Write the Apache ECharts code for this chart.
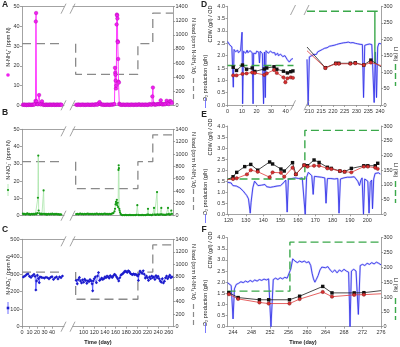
<!DOCTYPE html>
<html>
<head>
<meta charset="utf-8">
<script src="https://cdn.jsdelivr.net/npm/echarts@6.0.0/dist/echarts.min.js"></script>
<style>html,body{margin:0;padding:0;background:#fff}#chart{width:400px;height:347px}</style>
</head>
<body>
<div id="chart"></div>
<script>
// ---------- data ----------
// A: N-NH4+ (ppm N), [day, value]
const nh4Left = [[0,0.3],[1.2,0.2],[2.4,0.4],[3.6,0.2],[4.8,0.3],[6,0.1],[7.2,0.3],[8.4,0.2],[9.6,0.4],[10.8,0.2],[12,0.3],[13.2,0.2],[14.4,0.4],[15.6,0.3],[16.8,0.5],[18,2.2],[18.4,42.5],[18.8,46.8],[19.3,2.0],[20.2,0.6],[21.4,0.5],[22.8,5.2],[23.8,0.8],[25,0.4],[26.6,2.0],[27.6,0.5],[28.8,0.2],[30,0.3],[31.2,0.2],[32.4,0.4],[33.6,0.2],[34.8,0.3],[36,0.2],[37.2,0.4],[38.4,0.3],[39.6,0.2],[40.8,0.3],[42,0.4],[43.2,0.2],[44.4,0.3],[45.6,0.2],[46.8,0.4],[48,0.3],[49.2,0.2],[50.4,0.3],[51.6,0.4],[52.8,0.2]];
const nh4Right = [[86,0.3],[88,0.2],[90,0.4],[92,0.3],[94,0.2],[96,0.3],[98,0.4],[100,0.2],[102,0.3],[104,0.2],[106,0.3],[108,0.4],[110,0.2],[112,0.3],[114,0.2],[116,0.4],[118,0.3],[120,0.2],[122,0.5],[124,0.4],[126,0.3],[128,1.0],[130,1.6],[132,0.6],[134,0.3],[136,0.4],[138,0.2],[140,0.3],[142,0.2],[144,0.4],[146,0.3],[148,0.2],[150,0.3],[152,0.4],[154,0.3],[156,0.5],[158,0.6],[159,19],[159.4,16.5],[159.8,15.5],[160.2,12.5],[160.8,8.5],[161.4,10],[162,41],[162.5,46],[163,45.5],[163.5,44],[164,32.5],[164.4,32],[164.9,23.5],[165.5,12],[166.2,11.5],[167,0.8],[168,0.4],[170,0.3],[172,0.2],[174,0.4],[176,0.3],[178,0.2],[180,0.3],[182,0.4],[184,0.2],[186,0.3],[188,0.2],[190,0.4],[192,0.3],[194,0.2],[196,0.3],[198,0.4],[200,0.2],[202,0.3],[204,0.5],[206,0.3],[208,0.2],[210,0.4],[212,0.3],[214,0.2],[216,0.4],[218,0.3],[220,0.2],[222,0.3],[224,0.6],[226,0.4],[228,0.3],[229.2,4.5],[230.2,9.0],[231.2,0.8],[232,0.5],[234,0.3],[236,0.4],[238,0.5],[240,0.7],[242,0.5],[244,0.9],[245,2.5],[246,0.8],[248,0.4],[250,0.6],[252,0.5],[254,0.7],[256,2.3],[258,1.0],[260,0.6],[262,2.1],[264,2.0],[266,1.2]];

// B: N-NO2- (ppm N)
const no2Left = [[0,0.8],[1.2,1.2],[2.4,0.9],[3.6,1.1],[4.8,0.7],[6,1.0],[7.2,1.3],[8.4,0.8],[9.6,1.0],[10.8,0.6],[12,0.9],[13.2,1.1],[14.4,0.7],[15.6,1.0],[16.8,0.8],[18,1.2],[19.2,0.9],[20.4,1.5],[21.2,10.4],[21.7,34.8],[22.2,3.0],[23,1.4],[24.2,0.9],[25.4,1.2],[26.6,0.8],[28,1.0],[28.8,14.6],[29.6,1.1],[30.8,0.8],[32,1.0],[33.2,0.6],[34.4,0.9],[35.6,1.1],[36.8,0.7],[38,1.0],[39.2,0.8],[40.4,1.2],[41.6,0.9],[42.8,0.7],[44,1.0],[45.2,0.8],[46.4,1.1],[47.6,0.7],[48.8,0.9],[50,0.6],[51.2,0.8],[52.4,0.7]];
const no2Right = [[86,0.9],[88,1.1],[90,0.8],[92,1.0],[94,1.2],[96,0.9],[98,1.0],[100,0.8],[102,1.1],[104,0.9],[106,1.0],[108,1.2],[110,0.8],[112,1.0],[114,0.9],[116,1.1],[118,0.8],[120,1.0],[122,0.9],[124,1.2],[126,1.0],[128,0.8],[130,1.1],[132,0.9],[134,1.0],[136,0.8],[138,1.0],[140,1.2],[142,0.9],[144,1.0],[146,0.8],[148,1.1],[150,0.9],[152,1.0],[154,1.3],[156,1.5],[158,2.5],[159,4.0],[160,6.5],[160.8,8.0],[161.6,7.0],[162.4,9.2],[163.2,6.0],[164,7.5],[164.8,5.0],[165.5,26.5],[165.9,29.2],[166.3,27.5],[167,4.0],[167.6,3.0],[168.4,2.0],[169.5,1.0],[171,0.5],[173,0.3],[175,0.4],[177,0.3],[179,0.5],[181,0.3],[183,0.4],[185,0.3],[187,0.5],[189,0.3],[191,0.4],[193,0.3],[195,0.4],[197,0.3],[199,0.5],[200.9,6.1],[202.5,0.5],[204,0.3],[206,0.4],[208,0.3],[210,0.5],[212,0.3],[214,0.4],[216,0.3],[218,0.5],[220,0.6],[221,4.0],[222,0.6],[224,0.4],[226,0.5],[228,0.3],[230,0.6],[232.3,4.5],[233.5,0.7],[235,0.5],[236.5,0.6],[238,13.7],[239.2,0.8],[241,0.5],[243,0.6],[245,0.8],[246,4.5],[247,0.8],[249,0.5],[251,0.6],[253,0.4],[255,0.6],[257,0.8],[258.6,4.5],[259.8,0.9],[261.5,0.6],[263,0.8],[264.8,3.0],[266,1.0]];

// C: N-NO3- (ppm N)
const no3Left = [[0,280],[2,285],[4,290],[6,298],[8,302],[10,288],[12,282],[14,292],[16,300],[17.5,288],[18.5,210],[19.5,262],[20.5,295],[22,275],[23,252],[24,285],[26,282],[28,280],[30,278],[32,283],[34,280],[36,274],[38,282],[40,286],[42,270],[44,280],[46,285],[48,273],[50,285],[52,280],[54,290]];
const no3Right = [[86,265],[88,245],[90,270],[92,282],[94,262],[96,250],[98,268],[100,255],[102,272],[104,265],[106,248],[108,262],[110,258],[112,270],[114,262],[116,245],[117,205],[118,262],[120,275],[122,285],[124,252],[126,290],[128,310],[130,265],[132,270],[134,278],[136,270],[138,275],[140,285],[142,280],[144,290],[146,285],[148,278],[150,292],[152,285],[154,282],[156,292],[158,300],[160,295],[162,285],[164,275],[166,262],[168,280],[170,295],[172,300],[174,305],[176,312],[178,318],[180,315],[182,310],[184,320],[186,315],[188,305],[190,300],[192,298],[194,302],[196,298],[198,300],[200,295],[202,290],[203,265],[204,300],[206,318],[208,310],[210,305],[212,320],[214,300],[216,278],[218,290],[220,280],[222,265],[224,285],[226,275],[228,290],[230,280],[232,285],[234,270],[236,292],[238,280],[240,288],[242,275],[244,262],[246,255],[248,275],[250,250],[252,260],[254,280],[256,290],[258,275],[260,285],[262,295],[264,280],[266,285]];

// N load (ppm N-NH4+/d), same steps for A, B, C
const nLoadLeft = [[0,875],[56,875]];
const nLoadRight = [[85,875],[85,440],[202,440],[202,875],[230,875],[230,1310],[268,1310]];

// D: O2 production (g/h)
const o2DLeft = [[0,2.57],[0.5,2.52],[1,2.5],[1.5,2.44],[2,2.42],[2.5,2.36],[3,2.35],[3.5,2.28],[4,0.72],[4.5,2.25],[5,2.22],[5.5,2.16],[6,2.2],[6.5,2.14],[7,2.22],[7.5,2.12],[8,2.18],[8.5,2.1],[9,2.2],[9.5,2.15],[10,2.95],[10.4,0.05],[11,2.18],[11.5,2.12],[12,2.2],[12.5,2.1],[13,2.16],[13.5,2.22],[14,2.12],[14.5,2.18],[15,2.1],[15.5,2.2],[16,2.14],[16.5,2.22],[17,2.12],[17.6,0.05],[18,2.1],[18.5,2.05],[19,2.15],[19.5,2.08],[20,2.18],[20.5,2.1],[21,2.2],[21.5,2.14],[22,1.7],[22.5,2.18],[23,2.1],[23.5,2.16],[24,2.08],[24.8,0.05],[25.4,2.15],[26,0.3],[26.5,2.2],[27,2.12],[27.5,2.18],[28,2.1],[28.5,2.16],[29,2.08],[29.5,2.18],[30,2.1],[30.5,2.2],[31,2.12],[31.5,2.15],[32,2.06],[32.5,2.12],[33,2.02],[33.5,2.1],[34,2.04],[34.5,2.1],[35,2.0],[35.5,2.08],[36,2.02],[36.5,2.06],[37,1.98],[37.5,2.04],[38,1.96],[38.5,2.02],[39,1.95],[39.5,2.0],[40,1.92],[40.5,1.98],[41,1.85],[41.5,1.9],[42,1.78],[42.5,1.74],[43,1.8],[43.5,1.72],[44,1.86],[44.5,1.9],[45,1.88]];
const o2DRight = [[209,1.85],[209.5,0.0],[210,1.95],[210.5,1.9],[211,2.0],[211.5,1.95],[212,2.05],[212.5,2.1],[213,2.05],[213.5,2.15],[214,2.1],[214.5,2.2],[215,2.15],[215.5,2.25],[216,2.2],[216.5,2.3],[217,2.25],[217.5,2.32],[218,2.28],[218.5,2.38],[219,2.32],[219.5,2.4],[220,2.35],[220.5,2.42],[221,2.38],[221.5,2.45],[222,2.4],[222.5,2.48],[223,2.42],[223.5,2.5],[224,2.45],[224.5,2.52],[225,2.47],[225.5,2.53],[226,2.48],[226.5,2.55],[227,2.5],[227.5,2.52],[228,2.48],[228.5,2.53],[229,2.47],[229.5,2.5],[230,2.45],[230.5,2.48],[231,2.42],[231.5,2.46],[232,2.4],[232.5,2.45],[233,0.3],[233.5,2.42],[234,2.48],[234.5,2.45],[235,2.52],[235.5,2.47],[236,2.5],[236.5,2.45],[237,2.48],[237.5,0.1],[238,2.15],[238.5,0.3],[239,2.35],[239.5,2.5],[240,2.45],[240.4,2.48]];
// D: CDW (g/l) and OD
const cdwDLeft = [[3.9,1.53],[6.2,1.40],[10.3,1.62],[13.1,1.45],[17,1.5],[18.8,1.36],[25.3,1.46],[27,1.5],[32,1.55],[33.9,1.45],[38.5,1.37],[41.2,1.3],[43.5,1.35],[45,1.38]];
const odDLeft = [[3.9,1.2],[6.2,1.2],[10.3,1.26],[13.1,1.28],[17,1.32],[18.8,1.3],[25.3,1.22],[27,1.28],[32,1.42],[33.9,1.3],[38.5,1.12],[39.8,0.92],[41.2,1.08],[43.5,1.12],[45,1.1]];
const cdwDRight = [[209,2.35],[216.8,1.51],[221.2,1.69],[222.5,1.69],[227.4,1.69],[229.5,1.71],[233.1,1.62],[236.1,1.82],[240.4,1.55]];
const odDRight = [[209,2.2],[216.8,1.5],[221.2,1.67],[222.5,1.67],[227.4,1.67],[229.5,1.69],[233.1,1.62],[236.1,1.72],[240.4,1.6]];
// D: LI (%)
const liDLeft = [[0,120],[45.4,120]];
const liDRight = [[209,285],[237.8,285],[237.8,125],[237.8,285],[240.4,285]];

// E
const o2E = [[119.5,1.45],[120.5,1.38],[121.5,1.42],[122.5,1.3],[123.5,1.38],[124.5,1.28],[125.5,1.35],[126.5,1.2],[127.5,1.15],[128.5,1.05],[129.5,0.95],[130.5,0.85],[131.5,0.7],[132.5,0.05],[133,0.55],[134,1.2],[135,1.5],[136,1.42],[137,1.3],[138,1.25],[139,1.32],[140,1.28],[141,1.35],[142,1.25],[143,1.3],[144,1.22],[145,1.3],[146,1.25],[147,1.32],[148,1.28],[149,1.35],[150,1.3],[151,1.38],[152,1.45],[153,1.55],[153.8,0.1],[154.5,1.6],[155.5,1.55],[156.5,1.62],[157.5,1.58],[158.5,1.65],[159.5,1.6],[160.5,1.62],[161.5,1.58],[162.5,1.65],[163.5,1.62],[164.2,0.0],[165,1.68],[166,1.9],[167,1.82],[168,1.75],[168.8,0.9],[169.5,1.72],[170.5,1.65],[171.5,1.7],[172.5,1.62],[173.5,1.68],[174.5,1.6],[175.5,1.65],[176.2,0.5],[177,1.62],[178,1.58],[179,1.62],[180,1.55],[181,1.6],[182,1.58],[183,1.62],[183.7,0.05],[184.5,1.6],[185.5,1.58],[186.5,1.65],[187.5,1.6],[188.5,1.68],[189.5,1.72],[190.5,1.68],[191.5,1.72],[192.5,1.7],[193.5,1.68],[194.5,1.5],[195.5,1.3],[196.3,1.55],[197,1.65],[197.8,0.0],[198.5,1.6],[199.5,1.55],[200.3,1.5],[201,0.05],[201.7,1.45],[202.5,1.55],[203,0.25],[203.7,1.6],[204.5,1.85],[205.5,1.8],[206.5,1.88],[207.5,1.82]];
const cdwE = [[119.4,1.57],[122.6,1.7],[124.7,1.9],[129.3,2.16],[132.8,2.26],[136.8,2.0],[143.7,2.37],[145.4,2.28],[150.2,2.05],[152.1,1.96],[156.9,2.34],[158.8,1.81],[163.6,2.23],[165.5,2.2],[169.3,2.46],[172.2,2.35],[177,2.13],[179.3,2.08],[184.2,1.96],[186.9,1.93],[190.8,2.08],[198,2.2],[200.3,2.2],[204.6,2.2],[206,2.31]];
const odE = [[119.4,1.57],[122.6,1.6],[124.7,1.63],[130.6,1.81],[132.8,2.0],[136.8,1.93],[143.7,1.68],[145.4,1.9],[150.2,1.88],[152.1,1.7],[156.9,2.11],[158.8,1.81],[163.6,2.22],[165.5,2.16],[169.3,2.2],[172.2,2.2],[177,2.08],[179.3,2.05],[184.2,1.96],[186.9,1.93],[190.8,1.9],[198,2.16],[200.3,2.16],[204.6,2.11],[206,2.06]];
const liE = [[119.4,120],[164,120],[164,285],[207.9,285]];

// F
const o2F = [[242.8,1.98],[243.2,1.92],[243.6,1.85],[244,0.35],[244.3,1.7],[244.7,1.9],[245.2,1.95],[245.7,2.02],[246.2,1.98],[246.7,2.05],[247.2,2.0],[247.7,2.08],[248.2,2.02],[248.7,2.1],[249.2,2.05],[249.7,2.12],[250.2,2.08],[250.7,2.14],[251.2,2.1],[251.7,2.15],[252.2,0.0],[252.7,2.12],[253.2,2.18],[253.7,2.12],[254.2,2.2],[254.7,2.15],[255.2,2.22],[255.7,2.18],[256.1,2.25],[256.5,2.6],[256.9,3.05],[257.4,2.95],[257.9,2.88],[258.4,2.95],[258.9,2.9],[259.4,2.95],[259.9,2.88],[260.4,2.92],[260.8,2.75],[261.1,2.4],[261.4,2.15],[261.7,2.0],[262,2.12],[262.4,2.3],[262.8,2.55],[263.2,2.68],[263.6,2.75],[264,2.65],[264.5,2.7],[265,2.55],[265.5,2.45],[266,2.55],[266.5,2.42],[267,2.55],[267.5,2.48],[268,2.58],[268.5,2.5],[269,2.45],[269.3,0.0],[269.6,2.5],[270.1,2.58],[270.6,2.5],[271.1,0.55],[271.5,2.75],[272,2.8],[272.5,2.75],[273,2.85],[273.5,2.8],[274,2.88],[274.5,2.82],[275,2.9],[275.5,2.85],[276,2.78]];
const cdwF = [[243.1,1.53],[245.1,1.31],[249.7,1.21],[251.7,1.21],[256.2,1.21],[258.4,1.37],[263.4,1.81],[265.4,1.52],[270.2,1.52],[272.3,1.53],[276,1.62]];
const odF = [[243.1,1.46],[245.1,1.25],[249.7,1.09],[251.7,1.04],[256.2,1.04],[258.4,1.24],[263.4,1.56],[265.4,1.35],[270.2,1.43],[272.3,1.44],[276,1.48]];
const liF = [[242.8,120],[256.3,120],[256.3,285],[276,285]];

// tick labels
const ticksAC1 = [0, 10, 20, 30, 40];
const ticksAC2 = [100, 120, 140, 160, 180, 200, 220, 240, 260];
const ticksD1 = [0, 10, 20, 30, 40];
const ticksD2 = [210, 215, 220, 225, 230, 235, 240];
const ticksE = [120, 130, 140, 150, 160, 170, 180, 190, 200];
const ticksF = [244, 248, 252, 256, 260, 264, 268, 272, 276];

// ---------- building ----------
const GREY = '#8c8c8c';
const FONT = '"Liberation Sans", Arial, sans-serif';
const grids = [], xAxes = [], yAxes = [], series = [], graphics = [];

function xAxisOf(gi, min, max, ticks, labels, pos) {
  return {
    type: 'value', gridIndex: gi, min: min, max: max, position: pos || 'bottom',
    axisLine: { show: true, onZero: false, lineStyle: { color: GREY, width: 0.8 } },
    axisTick: ticks ? { show: true, length: 2, customValues: ticks, lineStyle: { color: GREY, width: 0.8 } } : { show: false },
    axisLabel: labels ? { show: true, customValues: ticks, fontSize: 5.5, color: '#333', margin: 3, formatter: v => String(v) } : { show: false },
    splitLine: { show: false }
  };
}

function yAxisOf(gi, pos, s, visible) {
  return {
    type: 'value', gridIndex: gi, position: pos, show: visible,
    min: s.min, max: s.max, interval: s.interval,
    axisLine: { show: true, onZero: false, lineStyle: { color: GREY, width: 0.8 } },
    axisTick: { show: true, length: 2, lineStyle: { color: GREY, width: 0.8 } },
    axisLabel: { fontSize: 5.5, color: '#333', margin: 2.5, formatter: s.fmt || (v => String(v)) },
    splitLine: { show: false }
  };
}

function segment(box, xmin, xmax, ticks, showLabels, topLine, sl, sr, showL, showR) {
  const gi = grids.length;
  grids.push({ left: box[0], top: box[1], width: box[2], height: box[3] });
  const xi = xAxes.length;
  xAxes.push(xAxisOf(gi, xmin, xmax, ticks, showLabels));
  if (topLine) xAxes.push(xAxisOf(gi, xmin, xmax, null, false, 'top'));
  const yi = yAxes.length;
  yAxes.push(yAxisOf(gi, 'left', sl, showL));
  yAxes.push(yAxisOf(gi, 'right', sr, showR));
  return { xi: xi, yl: yi, yr: yi + 1, xmin: xmin, xmax: xmax };
}

function addLine(sg, right, data, o) {
  series.push({
    type: 'line', xAxisIndex: sg.xi, yAxisIndex: right ? sg.yr : sg.yl,
    data: data.map(p => (o.symbol && (p[0] <= sg.xmin + 0.05 || p[0] >= sg.xmax - 0.05)) ? { value: p, symbol: 'none' } : p),
    symbol: o.symbol || 'none', symbolSize: o.size || 3, showSymbol: !!o.symbol,
    itemStyle: { color: o.fill || o.color, borderColor: o.border || o.color, borderWidth: o.bw || 0 },
    lineStyle: { color: o.color, width: o.width || 1, type: o.dash || 'solid', opacity: o.opacity == null ? 1 : o.opacity },
    z: o.z || 2, silent: true
  });
}

const nhS = { min: 0, max: 50, interval: 10 };
const noS = { min: 0, max: 500, interval: 100 };
const nLoadS = { min: 0, max: 1400, interval: 200 };
const o2S = { min: 0, max: 4, interval: 0.5, fmt: v => v.toFixed(1) };
const liS = { min: 0, max: 300, interval: 50 };

const loadStyle = { color: '#8a8a8a', width: 1.3, dash: [9, 5] };
const liStyle = { color: '#3aa84a', width: 1.4, dash: [8, 4], z: 3 };

// left column: A, B, C
const rowsL = [
  { top: 6.7, h: 98.6, s: nhS, l: nh4Left, r: nh4Right, st: { color: '#ff3cff', width: 1, symbol: 'circle', size: 3.6, fill: '#f020f0', border: '#b000b0', bw: 0.4 } },
  { top: 129.3, h: 86.4, s: nhS, l: no2Left, r: no2Right, st: { color: '#a8e4a8', width: 0.8, symbol: 'circle', size: 2.2, fill: '#169a16' } },
  { top: 239.3, h: 87.4, s: noS, l: no3Left, r: no3Right, st: { color: '#4a4aff', width: 0.8, symbol: 'diamond', size: 3.2, fill: '#1c1ccc' }, labels: true }
];
rowsL.forEach(function (r) {
  const s1 = segment([22, r.top, 42, r.h], 0, 56, r.labels ? ticksAC1 : null, !!r.labels, true, r.s, nLoadS, true, false);
  const s2 = segment([73, r.top, 100, r.h], 80, 268, r.labels ? ticksAC2 : null, !!r.labels, true, r.s, nLoadS, false, true);
  addLine(s1, true, nLoadLeft, loadStyle);
  addLine(s2, true, nLoadRight, loadStyle);
  addLine(s1, false, r.l, r.st);
  addLine(s2, false, r.r, r.st);
});

// right column: D, E, F
const haloStyle = { color: '#8c8cff', width: 1.9, opacity: 0.4, z: 1 };
const blueStyle = { color: '#3535e8', width: 0.9, z: 2 };
const cdwStyle = { color: '#1a1a1a', width: 0.8, symbol: 'rect', size: 3.4, fill: '#111', z: 4 };
const odStyle = { color: '#e03a3a', width: 0.8, symbol: 'circle', size: 3.4, fill: '#d83030', border: '#6a1010', bw: 0.4, z: 4 };

const d1 = segment([227.5, 6.3, 66, 98.7], 0, 45.4, ticksD1, true, false, o2S, liS, true, false);
const d2 = segment([307, 6.3, 74, 98.7], 209, 240.4, ticksD2, true, false, o2S, liS, false, true);
const e1 = segment([227.5, 126, 153.5, 88.3], 119.4, 207.9, ticksE, true, false, o2S, liS, true, true);
const f1 = segment([227.5, 237.7, 153.5, 89], 242.8, 276, ticksF, true, false, o2S, liS, true, true);

[[d1, o2DLeft, cdwDLeft, odDLeft, liDLeft], [d2, o2DRight, cdwDRight, odDRight, liDRight],
 [e1, o2E, cdwE, odE, liE], [f1, o2F, cdwF, odF, liF]].forEach(function (p) {
  addLine(p[0], false, p[1], haloStyle);
  addLine(p[0], false, p[1], blueStyle);
  addLine(p[0], true, p[4], liStyle);
  addLine(p[0], false, p[2], cdwStyle);
  addLine(p[0], false, p[3], odStyle);
});

// ---------- texts and decorations ----------
function txt(x, y, text, size, rot, bold) {
  graphics.push({ type: 'text', x: x, y: y, rotation: rot || 0, z: 10, silent: true,
    style: { text: text, fontSize: size, fontWeight: bold ? 'bold' : 'normal', fontFamily: FONT, fill: '#222', align: 'center', verticalAlign: 'middle' } });
}
function seg(x1, y1, x2, y2, color, w, dash) {
  graphics.push({ type: 'line', z: 10, silent: true, shape: { x1: x1, y1: y1, x2: x2, y2: y2 },
    style: { stroke: color, lineWidth: w, lineDash: dash || null } });
}
function dot(x, y, r, color, sym) {
  graphics.push({ type: sym === 'rect' ? 'rect' : 'circle', z: 10, silent: true,
    shape: sym === 'rect' ? { x: x - r, y: y - r, width: 2 * r, height: 2 * r } : { cx: x, cy: y, r: r },
    style: { fill: color } });
}
function brk(xa, xb, y) {
  seg(xa - 3, y + 5, xa + 2, y - 5, GREY, 0.8);
  seg(xb - 3, y + 5, xb + 2, y - 5, GREY, 0.8);
}

const UP = Math.PI / 2, DOWN = -Math.PI / 2;
// panel letters
txt(5, 5, 'A', 8.5, 0, true); txt(5, 113, 'B', 8.5, 0, true); txt(5, 229.5, 'C', 8.5, 0, true);
txt(204, 5, 'D', 8.5, 0, true); txt(204, 115, 'E', 8.5, 0, true); txt(204, 229.5, 'F', 8.5, 0, true);

// left column axis titles
txt(8, 47, 'N-NH\u2084\u207A (ppm N)', 5.5, UP); dot(8, 75, 1.8, '#f020f0');
txt(8, 160, 'N-NO\u2082\u207B (ppm N)', 5.5, UP); seg(8, 184, 8, 196, '#a8e4a8', 0.8); dot(8, 190, 1.1, '#169a16');
txt(8, 275, 'N-NO\u2083\u207B (ppm N)', 5.5, UP); seg(8, 302, 8, 314, '#4a4aff', 0.8); dot(8, 308, 1.3, '#1c1ccc', 'rect');
[[46, 78, 100], [160, 189, 211], [272, 304, 326]].forEach(function (r) {
  txt(193.5, r[0], 'N load (ppm N-NH\u2084\u207A/d)', 5.5, DOWN);
  seg(193.5, r[1], 193.5, r[2], '#8a8a8a', 1.2, [5, 3]);
});
txt(98, 342, 'Time (day)', 5.5, 0, true);

// right column axis titles
[[24, 78, 98, 108, 54, 64, 86], [137, 192, 214, 223, 170, 181, 203], [250, 303, 323, 333, 285, 298, 320]].forEach(function (r) {
  txt(210.5, r[0], 'CDW (g/l) / OD', 5.5, UP);
  txt(205.5, r[1], 'O\u2082 production (g/h)', 5.5, UP);
  seg(205.5, r[2], 205.5, r[3], '#6a6aff', 0.9);
  txt(395.5, r[4], 'LI (%)', 5.5, DOWN);
  seg(395.5, r[5], 395.5, r[6], '#3aa84a', 1.4, [6, 3]);
});
txt(303, 342, 'Time (day)', 5.5, 0, true);

// axis break marks
[[6.7, 105.3], [129.3, 215.7], [239.3, 326.7]].forEach(function (r) {
  brk(64, 73, r[0] + 2);
  brk(64, 73, r[1]);
});
brk(293.5, 307, 10);
brk(293.5, 307, 105.3);

const chart = echarts.init(document.getElementById('chart'));
chart.setOption({
  animation: false,
  backgroundColor: '#fff',
  textStyle: { fontFamily: FONT },
  grid: grids,
  xAxis: xAxes,
  yAxis: yAxes,
  series: series,
  graphic: graphics
});
</script>
</body>
</html>
